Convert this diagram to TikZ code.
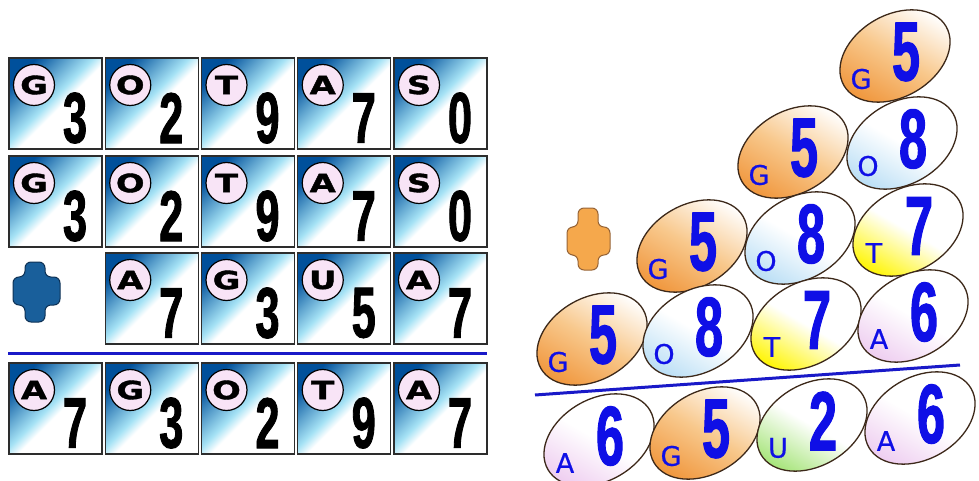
\documentclass[tikz,border=0pt]{standalone}
\usepackage{fontspec}
\newfontfamily\digfont[FakeStretch=0.6,FakeBold=1.2]{Liberation Sans}
\newfontfamily\circfont[FakeStretch=1.35,FakeBold=1.5]{DejaVu Sans}
\newfontfamily\ellfont[FakeBold=0.6]{DejaVu Sans}
\definecolor{tileblue}{RGB}{0,80,155}
\definecolor{tilemid}{RGB}{165,226,245}
\definecolor{pinkcirc}{RGB}{248,228,246}
\definecolor{lineblue}{RGB}{25,25,200}
\definecolor{digblue}{RGB}{15,15,230}
\definecolor{plusblue}{RGB}{25,95,155}
\definecolor{plusblueline}{RGB}{15,50,85}
\definecolor{plusorange}{RGB}{245,168,76}
\definecolor{plusorangeline}{RGB}{150,100,55}
\definecolor{ellorange}{RGB}{240,150,60}
\definecolor{ellorangemid}{RGB}{248,200,140}
\definecolor{ellblue}{RGB}{185,222,245}
\definecolor{ellyellow}{RGB}{255,245,0}
\definecolor{ellpink}{RGB}{238,205,240}
\definecolor{ellgreen}{RGB}{165,228,120}
\definecolor{ellline}{RGB}{60,40,25}
\definecolor{tileline}{RGB}{45,45,45}
\pgfdeclareverticalshading{tileshade}{100bp}{color(0bp)=(white); color(47bp)=(white); color(53bp)=(tilemid); color(62bp)=(tilemid!60!tileblue); color(75bp)=(tileblue); color(100bp)=(tileblue)}
\tikzset{
  tilebox/.style={draw=tileline, line width=1.4pt, shading=tileshade, shading angle=45},
  circbox/.style={circle, draw=black, line width=1.2pt, fill=pinkcirc, minimum size=41pt, inner sep=0pt, font=\circfont\bfseries\fontsize{25}{25}\selectfont},
  tiledigit/.style={inner sep=0pt, font=\digfont\bfseries\fontsize{72}{72}\selectfont},
  eggbox/.style={draw=ellline, line width=1.3pt},
  eggdigit/.style={inner sep=0pt, text=digblue, font=\digfont\bfseries\fontsize{84}{84}\selectfont},
  eggletter/.style={inner sep=0pt, text=digblue, font=\ellfont\fontsize{27}{27}\selectfont},
  sumline/.style={draw=lineblue, line width=3pt},
}
\newcommand\mytile[5]{%
  \path[tilebox] (#2,#3) rectangle ++(93,91);
  \node[circbox] (#1-c) at (#2+25,#3+27) {#4};
  \node[tiledigit] (#1-d) at (#2+66,#3+60) {#5};
}
\newcommand\myegg[7]{%
  \coordinate (#1) at (#2,#3);
  \path[eggbox, rotate around={30:(#1)}, bottom color=#6, top color=white, middle color=#7, shading angle=-30] (#1) ellipse [x radius=59pt, y radius=41pt];
  \node[eggdigit] (#1-d) at (#2+11,#3-4) {#5};
  \node[eggletter] (#1-l) at (#2-34,#3+23) {#4};
}
\begin{document}
\begin{tikzpicture}[x=1pt,y=-1pt]
\useasboundingbox (0,0) rectangle (979,481);
% left tiles
\mytile{r1c1}{9}{58}{G}{3}
\mytile{r1c2}{105.25}{58}{O}{2}
\mytile{r1c3}{201.5}{58}{T}{9}
\mytile{r1c4}{297.75}{58}{A}{7}
\mytile{r1c5}{394}{58}{S}{0}
\mytile{r2c1}{9}{156}{G}{3}
\mytile{r2c2}{105.25}{156}{O}{2}
\mytile{r2c3}{201.5}{156}{T}{9}
\mytile{r2c4}{297.75}{156}{A}{7}
\mytile{r2c5}{394}{156}{S}{0}
\mytile{r3c2}{105.25}{253}{A}{7}
\mytile{r3c3}{201.5}{253}{G}{3}
\mytile{r3c4}{297.75}{253}{U}{5}
\mytile{r3c5}{394}{253}{A}{7}
\mytile{r4c1}{9}{363}{A}{7}
\mytile{r4c2}{105.25}{363}{G}{3}
\mytile{r4c3}{201.5}{363}{O}{2}
\mytile{r4c4}{297.75}{363}{T}{9}
\mytile{r4c5}{394}{363}{A}{7}
% left plus
\draw[fill=plusblue, draw=plusblueline, line width=1pt, rounded corners=6pt]
  (25,262) -- (45,262) -- (45,277) -- (60,277) -- (60,305) -- (45,305) -- (45,322)
  -- (25,322) -- (25,305) -- (13,305) -- (13,277) -- (25,277) -- cycle;
% left sum line
\coordinate (ll1) at (8,353);
\coordinate (ll2) at (487,353);
\draw[sumline] (ll1) -- (ll2);
% right plus
\draw[fill=plusorange, draw=plusorangeline, line width=1pt, rounded corners=6pt]
  (578,208) -- (598,208) -- (598,227) -- (610,227) -- (610,255) -- (598,255) -- (598,270)
  -- (578,270) -- (578,255) -- (567,255) -- (567,227) -- (578,227) -- cycle;
% eggs
\myegg{e1a}{895}{56}{G}{5}{ellorange}{ellorangemid}
\myegg{e2a}{793}{152}{G}{5}{ellorange}{ellorangemid}
\myegg{e2b}{902}{143}{O}{8}{ellblue}{white}
\myegg{e3a}{692}{246}{G}{5}{ellorange}{ellorangemid}
\myegg{e3b}{800}{238}{O}{8}{ellblue}{white}
\myegg{e3c}{908}{230}{T}{7}{ellyellow}{white}
\myegg{e4a}{592}{339}{G}{5}{ellorange}{ellorangemid}
\myegg{e4b}{698}{331}{O}{8}{ellblue}{white}
\myegg{e4c}{806}{324}{T}{7}{ellyellow}{white}
\myegg{e4d}{913}{316}{A}{6}{ellpink}{white}
\coordinate (rl1) at (535,395);
\coordinate (rl2) at (960,365);
\draw[sumline] (rl1) -- (rl2);
\myegg{e5a}{599}{440}{A}{6}{ellpink}{white}
\myegg{e5b}{705}{433}{G}{5}{ellorange}{ellorangemid}
\myegg{e5c}{812}{425}{U}{2}{ellgreen}{white}
\myegg{e5d}{920}{418}{A}{6}{ellpink}{white}
\end{tikzpicture}
\end{document}
